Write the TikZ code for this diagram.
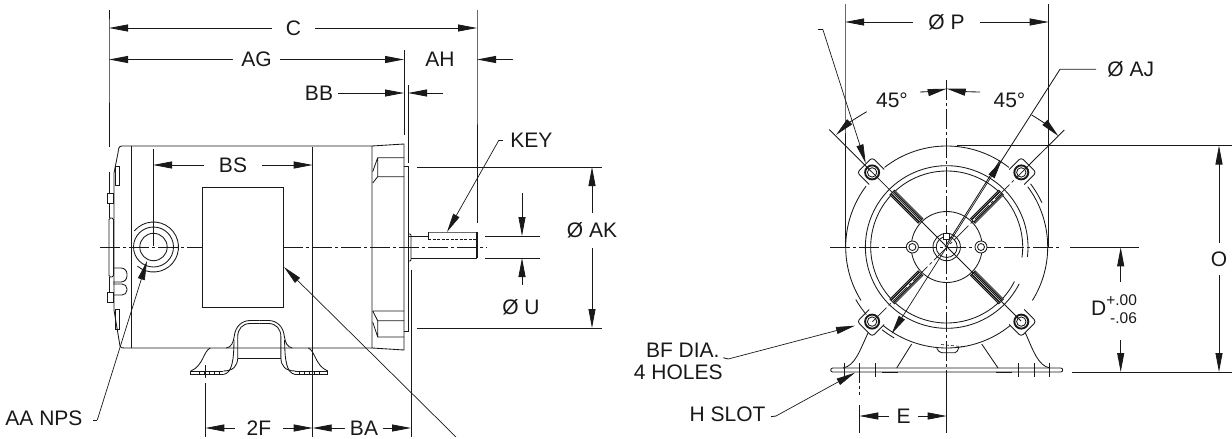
\documentclass[tikz,border=0pt]{standalone}
\usepackage{fontspec}
\setmainfont{Liberation Sans}
\usepackage{tikz}
\usetikzlibrary{arrows.meta}

\begin{document}
\begin{tikzpicture}[x=1pt, y=-1pt, line width=0.85pt, color={black!90},
    dim line/.style={-{Stealth[length=19pt,width=7pt,inset=0pt]}},
    leader line/.style={-{Stealth[length=19pt,width=7pt,inset=0pt]},line width=0.7pt},
    center line/.style={line width=0.7pt,dash pattern=on 20pt off 3pt on 3pt off 3pt},
    dim label/.style={inner sep=0pt,font=\fontsize{21}{23}\selectfont},
    plain label/.style={dim label,anchor=west}]
    \useasboundingbox (0,0) rectangle (1232,439);

    \coordinate (ctr) at (946.7,247);

    \node[dim label,minimum width=43pt] (nC) at (293.5,28) {C};
    \node[dim label,minimum width=47pt] (nAG) at (256.5,59.5) {AG};
    \node[dim label] (nAH) at (440,59.5) {AH};
    \node[dim label,minimum width=38pt] (nBB) at (319,93) {BB};
    \node[dim label,minimum width=58pt] (nBS) at (233,165) {BS};
    \node[dim label,minimum width=48pt] (n2F) at (259,428) {2F};
    \node[dim label,minimum width=38pt] (nBA) at (364,428) {BA};
    \node[dim label,minimum height=35pt] (nAK) at (592,230.5) {Ø AK};
    \node[dim label] (nU) at (521,307) {Ø U};
    \node[plain label] (nKEY) at (510,140) {KEY};
    \node[plain label] (nAA) at (5,418) {AA NPS};
    \node[dim label,minimum width=67pt] (nP) at (946.5,22) {Ø P};
    \node[dim label] (n45L) at (892,100) {45°};
    \node[dim label] (n45R) at (1009.5,100) {45°};
    \node[plain label] (nAJ) at (1107,69.5) {Ø AJ};
    \node[dim label,minimum height=32pt] (nO) at (1219,259) {O};
    \node[dim label,minimum height=58pt] (nD) at (1114,311)
        {D\raisebox{0.5pt}{\fontsize{15.5}{18}\selectfont\begin{tabular}{@{}r@{}}+.00\\-.06\end{tabular}}};
    \node[dim label,anchor=east] (nBF) at (720,350) {BF DIA.};
    \node[dim label,anchor=east] (nHOLES) at (723,372) {4 HOLES};
    \node[dim label,anchor=east] (nH) at (766,414) {H SLOT};
    \node[dim label,minimum width=28pt] (nE) at (903.5,416) {E};

    \coordinate (cL) at (109,28);
    \coordinate (cR) at (477,28);
    \coordinate (agL) at (109,59.5);
    \coordinate (agR) at (404,59.5);
    \coordinate (ahR) at (477,59.5);
    \coordinate (ahE) at (513,59.5);
    \coordinate (bbL) at (404,93);
    \coordinate (bbR) at (408,93);
    \coordinate (bbE) at (443,93);
    \coordinate (bsL) at (153,165);
    \coordinate (bsR) at (312.7,165);
    \coordinate (fL) at (205.3,428);
    \coordinate (fR) at (312.7,428);
    \coordinate (baR) at (411,428);
    \coordinate (akT) at (592,167);
    \coordinate (akB) at (592,328);
    \coordinate (uT) at (522,236);
    \coordinate (uTE) at (522,193);
    \coordinate (uB) at (522,258);
    \coordinate (uBE) at (522,285);
    \coordinate (pL) at (845,22);
    \coordinate (pR) at (1048.7,22);
    \coordinate (oT) at (1219,145.5);
    \coordinate (oB) at (1219,372);
    \coordinate (dT) at (1120.7,247.3);
    \coordinate (dB) at (1120.7,372);
    \coordinate (eL) at (859.3,416);
    \coordinate (eR) at (946.7,416);

    \path[dim line]
    (nC.west) edge (cL)
    (nC.east) edge (cR)
    (nAG.west) edge (agL)
    (nAG.east) edge (agR)
    (ahE) edge (ahR)
    (nBB.east) edge (bbL)
    (bbE) edge (bbR)
    (nBS.west) edge (bsL)
    (nBS.east) edge (bsR)
    (n2F.west) edge (fL)
    (n2F.east) edge (fR)
    (nBA.west) edge (fR)
    (nBA.east) edge (baR)
    (nAK.north) edge (akT)
    (nAK.south) edge (akB)
    (uTE) edge (uT)
    (uBE) edge (uB)
    (nP.west) edge (pL)
    (nP.east) edge (pR)
    (nO.north) edge (oT)
    (nO.south) edge (oB)
    (nD.north -| dT) edge (dT)
    (nD.south -| dB) edge (dB)
    (nE.west) edge (eL)
    (nE.east) edge (eR);

    \draw (109,10) -- (cL) -- (agL) -- (109,147);
    \draw (477,10) -- (cR) -- (477,223);
    \draw (404,50) -- (404,135);
    \draw (408,85) -- (408,163);
    \draw (153,149) -- (153,246);
    \draw (312.7,147) -- (312.7,437);
    \draw (205.3,365) -- (205.3,378) (205.3,383) -- (205.3,437);
    \draw (411,270) -- (411,437);
    \draw (417,167) -- (602,167) (417,328) -- (602,328);
    \draw (485,236) -- (540,236) (485,258) -- (540,258);
    \draw[center line] (100,247) -- (202.7,247) (283.3,247) -- (487,247);

    \draw (372,146) -- (122,146) .. controls (118.5,146) and (118.5,149) .. (118,153)
        -- (114,173) -- (114,310) -- (120,346) .. controls (120.5,348) and (122,348) .. (125,348) -- (372,348);
    \draw (131.7,146) -- (131.7,348);
    \draw (372,146) -- (404,144) -- (404,350) -- (372,348) -- cycle;
    \draw (404,166) -- (408,166) -- (408,331) -- (404,331);
    \draw (115,166) rectangle (119,185) (115,309) rectangle (119,329);
    \draw[rounded corners=1.5pt] (109,218) rectangle (113.5,277);
    \draw (107.5,193) rectangle (113,203) (107.5,292) rectangle (113,302);
    \draw (109,172) -- (109,193) (109,203) -- (109,218) (109,277) -- (109,292);
    \draw[rounded corners=6pt] (113,268) -- (127,268) -- (127,282) -- (113,282);
    \draw[rounded corners=5pt] (113,284) -- (127,284) -- (127,295) -- (113,295);
    \draw (202.7,187) rectangle (283.3,307);

    \draw (153.5,247) circle (13.7) circle (20);
    \draw (153.5,247) ++(-140:25) arc (-140:130:25);

    \draw (377.7,157.7) -- (404,157.7) (377.7,176.7) -- (404,176.7) (377.7,157.7) -- (377.7,176.7)
        -- (372.7,183) (377.7,157.7) -- (372.7,171.7);
    \draw (372.7,311) -- (404,311) (377.7,320.7) -- (404,320.7) (377.7,320.7) -- (377.7,337)
        -- (404,337) (372.7,311) -- (377.7,320.7) (372.7,322) -- (377.7,337);

    \foreach \s in {1,-1} {
        \draw (259.3+\s*33,348) .. controls (259.3+\s*28,347) and (259.3+\s*26,343) .. (259.3+\s*25,336)
            .. controls (259.3+\s*24,327) and (259.3+\s*18,320.5) .. (259.3+\s*9,320.5) -- (259.3,320.5);
        \draw (259.3+\s*21.6,358.3) -- (259.3+\s*21.6,337) .. controls (259.3+\s*21.6,329) and (259.3+\s*17,323.5) .. (259.3+\s*9,323.5) -- (259.3,323.5);
        \draw (259.3+\s*25.3,340) .. controls (259.3+\s*25.5,360) and (259.3+\s*27,373) .. (259.3+\s*36,374.5);
        \draw (259.3+\s*21.6,358.3) .. controls (259.3+\s*22,366) and (259.3+\s*26,371) .. (259.3+\s*36,371);
        \draw (259.3+\s*49,348) .. controls (259.3+\s*56,351) and (259.3+\s*56,366) .. (259.3+\s*68.5,371);
        \draw (259.3+\s*68.5,371) -- (259.3+\s*36,371) (259.3+\s*68.5,371) -- (259.3+\s*68.5,374.5) -- (259.3+\s*36,374.5);
        \foreach \t in {40,45,50,55,60} { \draw[line width=0.5pt] (259.3+\s*\t,371) -- (259.3+\s*\t,374.5); }
    }
    \draw (237.7,358.3) -- (280.9,358.3);

    \draw (845,4) -- (pL) -- (845,247);
    \draw (1048.7,4) -- (pR) -- (1048.7,247);
    \draw (956.7,145.5) -- (1232,145.5);
    \draw (1072,372) -- (1232,372);
    \draw (1070,247.3) -- (1139,247.3);
    \draw[center line] (830,247) -- (1062,247);
    \draw[center line] (946.7,80) -- (946.7,372);
    \draw (946.7,372) -- (946.7,433);
    \draw[center line] (859.3,363) -- (859.3,395);
    \draw (859.3,405) -- (859.3,433);

    \draw (ctr) ++(-128:101) arc (-128:-52:101);
    \draw (ctr) ++(-36.6:101) arc (-36.6:32:101);
    \draw (ctr) ++(148:101) arc (148:217:101);
    \draw (ctr) ++(51:101) arc (51:129:101);
    \draw (ctr) ++(-37:105) arc (-37:-25:105);
    \draw (ctr) ++(140:105) arc (140:150:105);
    \draw (ctr) ++(120:105) arc (120:128:105);
    \draw (ctr) ++(27:81.3) arc (27:367:81.3);
    \draw (ctr) ++(27:76) arc (27:368:76);
    \draw (ctr) circle (35.5) circle (13.7) circle (10.5);
    \draw[fill=white] (943.7,233) rectangle (949.7,239);
    \foreach \a in {45,135,225,315} {
        \begin{scope}[shift={(ctr)},rotate=\a]
            \draw[rounded corners=3pt] (99,-10.6) -- (116,-10.6) -- (116,10.6) -- (99,10.6);
            \draw[fill=white] (37,-3.3) rectangle (77,3.3);
            \draw[line width=1.5pt] (37,-1.7) -- (77,-1.7) (37,1.7) -- (77,1.7);
            \draw[line width=1.9pt,fill=white] (105.5,0) circle (7);
            \draw (105.5,0) circle (4.7);
        \end{scope}
    }
    \foreach \s in {-1,1} {
        \draw[fill=white] (946.7+\s*34.3,247) circle (6);
        \draw (946.7+\s*34.3,247) circle (3.5);
    }
    \draw (829.3,129.5) -- (1021,321);
    \draw (1064.3,130) -- (1030,164);
    \draw[center line] (1030,164) -- (872,322);

    \draw (945,247) -- (1000,160.3);
    \draw (1096,69.3) -- (1060,69.3) -- (1000,163);
    \coordinate (ajU) at (1001.7,160.3);
    \coordinate (ajL) at (891.7,333.7);
    \path[leader line] (ctr) edge (ajU) (ctr) edge (ajL);

    \draw[rounded corners=2pt] (830.7,368) rectangle (1062.7,372);
    \foreach \x in {844,859.3,875.3,1018.3,1034,1049.7} { \draw (\x,363) -- (\x,377); }
    \draw (868,333) .. controls (860,350) and (855,366) .. (843,368);
    \draw (1025.4,333) .. controls (1033,350) and (1038,366) .. (1050,368);
    \draw (911.7,344) -- (896.7,368) (981.7,344) -- (998,368);
    \draw (881.7,372) -- (898,372) (996,372) -- (1012,372);
    \draw (936.7,348.3) .. controls (938,351) and (940,352.7) .. (942,352.7) -- (955,352.7) .. controls (957,352.7) and (958,350) .. (959,347);
    \draw[line width=0.6pt,dash pattern=on 3pt off 2pt] (941,344.5) -- (966,347);

    \coordinate (lkE) at (499,140);
    \coordinate (lkT) at (447,232);
    \draw (503,140) -- (lkE);
    \path[leader line] (lkE) edge (lkT);
    \draw (428,232) rectangle (477,232);
    \draw (428,236) -- (408,236) (428,232) -- (428,239);
    \draw[dash pattern=on 3pt off 1.5pt] (428,239) -- (477,239);
    \draw (411,258) -- (477,258);
    \draw[line width=1.4pt] (477,232) -- (477,258);
    \draw[rounded corners=1pt] (408,234) -- (411,234) -- (411,261) -- (408,261);

    \coordinate (aaE) at (97.3,420);
    \coordinate (aaT) at (147,261);
    \draw (93,420) -- (aaE);
    \path[leader line] (aaE) edge (aaT);
    \coordinate (npE) at (456,437);
    \coordinate (npT) at (284,267);
    \path[leader line] (npE) edge (npT);

    \coordinate (bfU) at (822.7,29);
    \coordinate (bfH) at (865.7,163.3);
    \draw (818.3,29) -- (bfU);
    \path[leader line] (bfU) edge (bfH);
    \coordinate (bfE) at (728.3,359);
    \coordinate (bfL) at (855,325.7);
    \draw (723.3,357.7) -- (bfE);
    \path[leader line] (bfE) edge (bfL);
    \coordinate (hE) at (776,416);
    \coordinate (hT) at (855,372.7);
    \draw (771,416.7) -- (hE);
    \path[leader line] (hE) edge (hT);

    \coordinate (aTL) at (920,92);
    \coordinate (aTR) at (980,92);
    \coordinate (aTC) at (946.7,88.7);
    \coordinate (aLS) at (866.7,111.7);
    \coordinate (aLT) at (836,135);
    \coordinate (aRS) at (1031.7,115);
    \coordinate (aRT) at (1058.3,136);
    \draw[dim line] (aTL) to[bend right=5] (aTC);
    \draw[dim line] (aTR) to[bend left=5] (aTC);
    \draw[dim line] (aLS) to[bend right=7] (aLT);
    \draw[dim line] (aRS) to[bend left=7] (aRT);
\end{tikzpicture}
\end{document}
